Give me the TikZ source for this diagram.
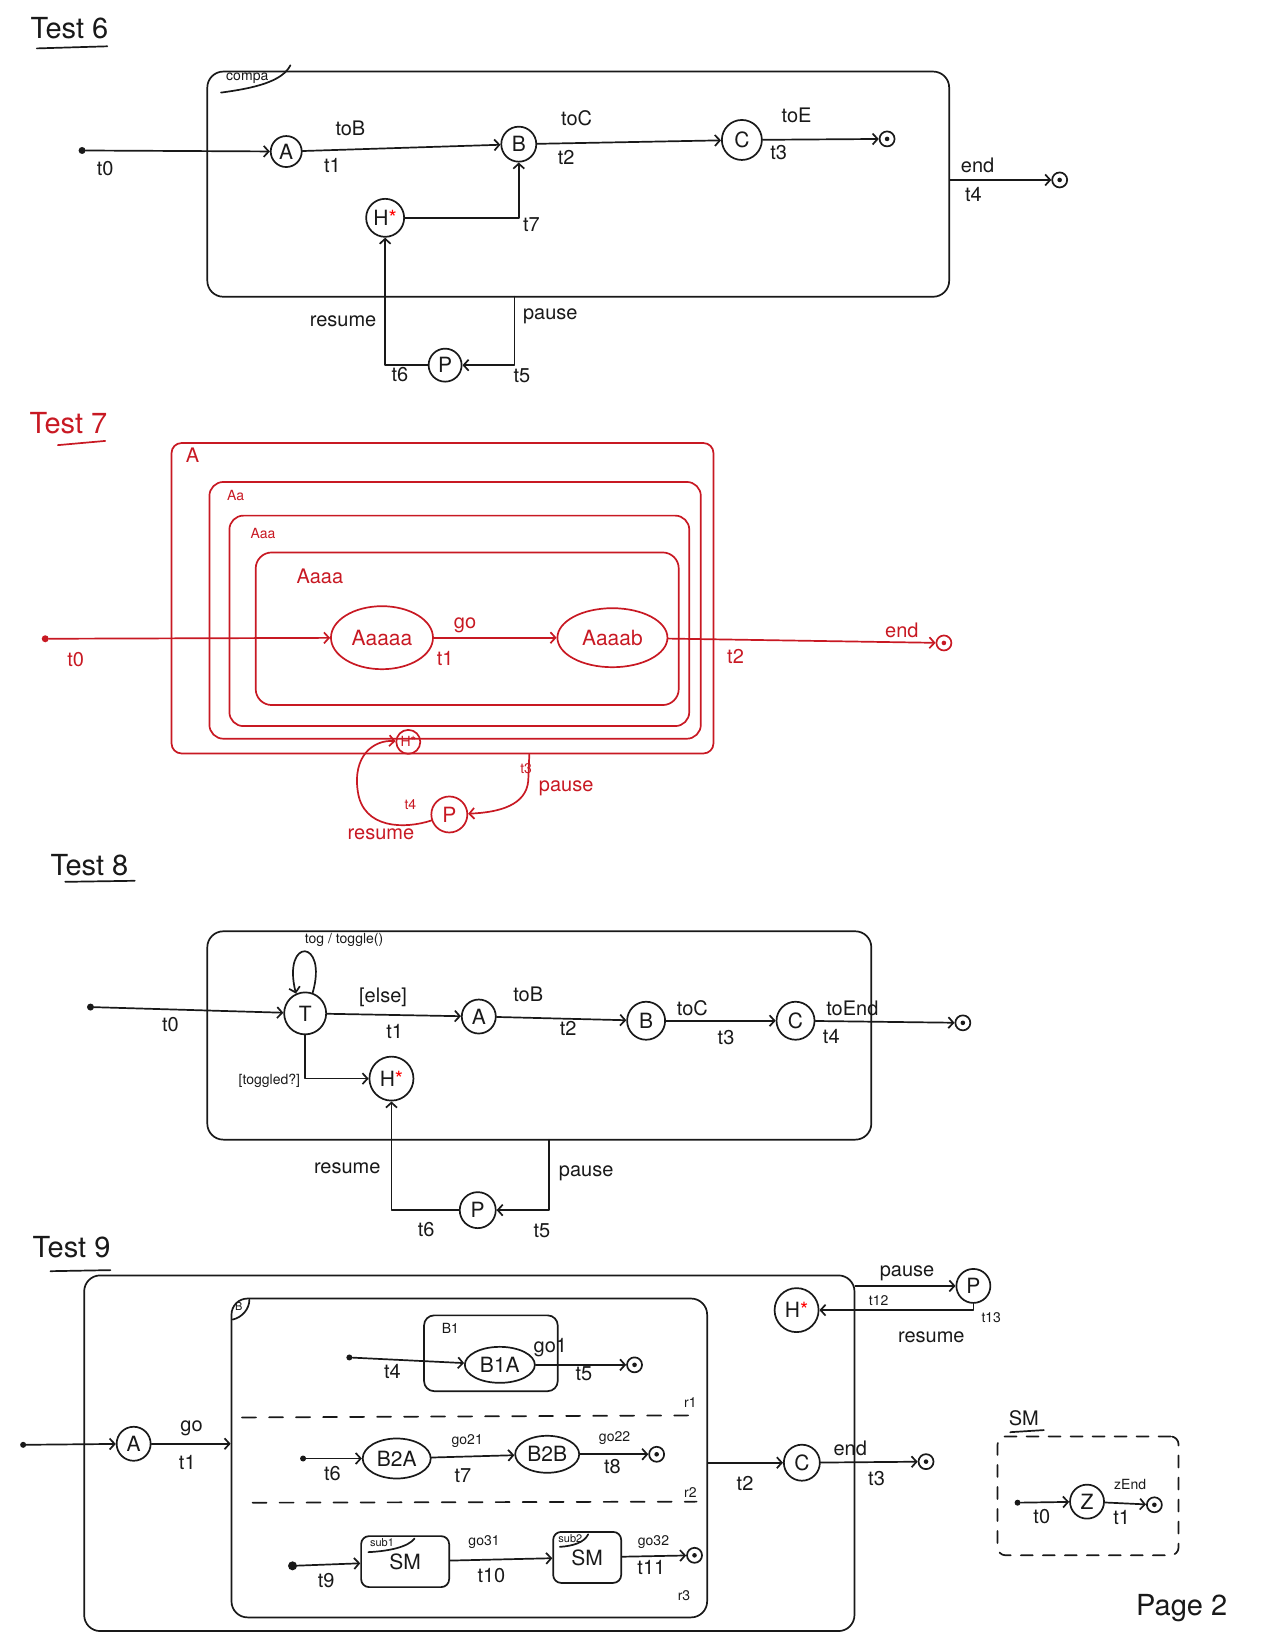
\documentclass[tikz,border=0pt]{standalone}
\usepackage{fontspec}
\setmainfont{TeX Gyre Heros}
\usetikzlibrary{arrows.meta,shapes.geometric,fit,calc}
\definecolor{inkc}{RGB}{25,25,25}
\definecolor{redink}{RGB}{200,25,35}
\newcommand\mylbl{\fontsize{20}{22}\selectfont}
\newcommand\mysmall{\fontsize{14}{16}\selectfont}
\newcommand\mytitle{\fontsize{29}{31}\selectfont}
\newcommand\mynode{\fontsize{21}{23}\selectfont}
\begin{document}
\begin{tikzpicture}[x=1.052pt,y=-1.052pt,
  ink/.style={line width=1.7pt, line cap=round, line join=round},
  st/.style={circle, draw, ink, inner sep=0pt, font=\mynode, minimum size=#1},
  st/.default=32pt,
  ov/.style={ellipse, draw, ink, inner sep=0pt, font=\mynode},
  ini/.style={circle, fill, inner sep=0pt, minimum size=7pt},
  fin/.style={circle, draw, ink, inner sep=0pt, minimum size=15pt,
     path picture={\fill (path picture bounding box.center) circle (2.3pt);}},
  tr/.style={ink, -{Straight Barb[length=5pt,width=11pt]}},
  lab/.style={font=\mylbl, inner sep=0pt},
  sml/.style={font=\mysmall, inner sep=0pt},
  ttl/.style={font=\mytitle, inner sep=0pt},
  box/.style={draw, ink, rounded corners=16pt, inner sep=0pt},
  dsh/.style={ink, dash pattern=on 14pt off 13pt}
]
\useasboundingbox (0,0) rectangle (1212,1568);
\begin{scope}[color=inkc]
% ================= Test 6 =================
\node[ttl] (T6) at (66,27) {Test 6};
\draw[ink] (35,46) -- (102,44);
\node[box, fit={(197,68) (902,282)}] (box6) {};
\draw[ink] (210,88) .. controls (240,84) and (268,78) .. (276,62);
\node[sml] (n6c) at (235,74) {compa};
\node[ini] (i6) at (78,143) {};
\node[st=31pt] (A6) at (272,144) {A};
\node[st=35pt] (B6) at (493,137) {B};
\node[st=40pt] (C6) at (705,133) {C};
\node[fin] (f6a) at (843,132) {};
\node[fin] (f6b) at (1007,171) {};
\node[st=38pt] (H6) at (366,207) {H\textcolor{red}{*}};
\node[st=33pt] (P6) at (423,347) {P};
\coordinate (p6s) at (489,282);
\draw[tr] (i6) -- (A6);
\draw[tr] (A6) -- (B6);
\draw[tr] (B6) -- (C6);
\draw[tr] (C6) -- (f6a);
\draw[tr] (box6.east |- f6b) -- (f6b);
\draw[tr] (H6) -| (B6.south);
\draw[tr] (p6s) |- (P6);
\draw[tr] (P6) -| (H6);
\node[lab] (l6a) at (100,160) {t0};
\node[lab] (l6b) at (333,122) {toB};
\node[lab] (l6c) at (316,157) {t1};
\node[lab] (l6d) at (548,112) {toC};
\node[lab] (l6e) at (538,150) {t2};
\node[lab] (l6f) at (757,110) {toE};
\node[lab] (l6g) at (740,145) {t3};
\node[lab] (l6h) at (929,157) {end};
\node[lab] (l6i) at (925,185) {t4};
\node[lab] (l6j) at (505,213) {t7};
\node[lab] (l6k) at (523,301) {pause};
\node[lab] (l6l) at (496,357) {t5};
\node[lab] (l6m) at (326,305) {resume};
\node[lab] (l6n) at (380,356) {t6};
\end{scope}
% ================= Test 7 =================
\begin{scope}[color=redink]
\node[ttl] (T7) at (65,402) {Test 7};
\draw[ink] (55,423) -- (100,419);
\node[box, rounded corners=10pt, fit={(163,421) (678,716)}] (bA) {};
\node[box, rounded corners=14pt, fit={(199,458) (666,702)}] (bAa) {};
\node[box, rounded corners=14pt, fit={(218,490) (655,690)}] (bAaa) {};
\node[box, rounded corners=16pt, fit={(243,525) (645,670)}] (bAaaa) {};
\node[lab] (l7A) at (183,433) {A};
\node[sml] (l7Aa) at (224,471) {Aa};
\node[sml] (l7Aaa) at (250,507) {Aaa};
\node[lab] (l7Aaaa) at (304,548) {Aaaa};
\node[ini] (i7) at (43,607) {};
\node[ov, minimum width=102pt, minimum height=63pt] (Aaaaa) at (363,606) {Aaaaa};
\node[ov, minimum width=110pt, minimum height=59pt] (Aaaab) at (582,606) {Aaaab};
\node[fin] (f7) at (897,611) {};
\node[st=24pt, font=\mysmall] (H7) at (388,705) {H*};
\node[st=36pt] (P7) at (427,774) {P};
\coordinate (p7s) at (503,717);
\draw[tr] (i7) -- (Aaaaa);
\draw[tr] (Aaaaa) -- (Aaaab);
\draw[tr] (Aaaab) -- (f7);
\draw[tr] (p7s) -- (502,742) .. controls (500,765) and (475,772) .. (P7);
\draw[tr] (P7) .. controls (385,788) and (345,788) .. (340,752) .. controls (335,718) and (355,703) .. (H7);
\node[lab] (l7a) at (72,627) {t0};
\node[lab] (l7b) at (442,594) {go};
\node[lab] (l7c) at (423,626) {t1};
\node[lab] (l7d) at (857,599) {end};
\node[lab] (l7e) at (699,624) {t2};
\node[sml] (l7f) at (500,730) {t3};
\node[lab] (l7g) at (538,749) {pause};
\node[sml] (l7h) at (390,765) {t4};
\node[lab] (l7i) at (362,793) {resume};
\end{scope}
% ================= Test 8 =================
\begin{scope}[color=inkc]
\node[ttl] (T8) at (85,822) {Test 8};
\draw[ink] (62,838) -- (128,837);
\node[box, fit={(197,885) (828,1083)}] (box8) {};
\node[ini] (i8) at (86,957) {};
\node[st=42pt] (T8s) at (290,963) {T};
\node[st=34pt] (A8) at (455,966) {A};
\node[st=38pt] (B8) at (614,970) {B};
\node[st=38pt] (C8) at (756,970) {C};
\node[fin] (f8) at (915,972) {};
\node[st=44pt] (H8) at (372,1025) {H\textcolor{red}{*}};
\node[st=36pt] (P8) at (454,1150) {P};
\coordinate (p8s) at (522,1083);
\draw[tr] (i8) -- (T8s);
\draw[tr] (T8s) -- (A8);
\draw[tr] (A8) -- (B8);
\draw[tr] (B8) -- (C8);
\draw[tr] (C8) -- (f8);
\draw[tr] (T8s.70) .. controls (312,892) and (268,890) .. (T8s.115);
\draw[tr] (T8s) |- (H8);
\draw[tr] (p8s) |- (P8);
\draw[tr] (P8) -| (H8);
\node[sml] (l8a) at (327,893) {tog / toggle()};
\node[lab] (l8b) at (162,974) {t0};
\node[lab] (l8c) at (364,948) {[else]};
\node[lab] (l8d) at (375,980) {t1};
\node[lab] (l8e) at (502,945) {toB};
\node[lab] (l8f) at (540,977) {t2};
\node[lab] (l8g) at (658,958) {toC};
\node[lab] (l8h) at (690,986) {t3};
\node[lab] (l8i) at (810,958) {toEnd};
\node[lab] (l8j) at (790,985) {t4};
\node[sml] (l8k) at (256,1027) {[toggled?]};
\node[lab] (l8l) at (330,1110) {resume};
\node[lab] (l8m) at (405,1168) {t6};
\node[lab] (l8n) at (557,1115) {pause};
\node[lab] (l8o) at (515,1170) {t5};
% ================= Test 9 =================
\node[ttl] (T9) at (68,1185) {Test 9};
\draw[ink] (48,1208) -- (105,1207);
\node[box, fit={(80,1212) (812,1550)}] (box9) {};
\node[box, fit={(220,1234) (672,1537)}] (bB) {};
\draw[ink] (221,1254) .. controls (230,1252) and (237,1244) .. (237,1235);
\node[font=\fontsize{11}{12}\selectfont, inner sep=0pt] (lB) at (227,1242) {B};
\node[ini, minimum size=6pt] (i9) at (22,1373) {};
\node[st=34pt] (A9) at (127,1372) {A};
\draw[tr] (i9) -- (A9);
\draw[tr] (A9) -- (bB.west |- A9);
\node[lab] (l9a) at (182,1357) {go};
\node[lab] (l9b) at (178,1390) {t1};
% region 1
\node[box, rounded corners=10pt, fit={(403,1250) (530,1322)}] (bB1) {};
\node[sml] (l9B1) at (428,1262) {B1};
\node[ov, minimum width=70pt, minimum height=36pt] (B1A) at (475,1297) {B1A};
\node[ini, minimum size=6pt] (i91) at (332,1290) {};
\node[fin] (f91) at (603,1297) {};
\draw[tr] (i91) -- (B1A);
\draw[tr] (B1A) -- (f91);
\node[lab] (l9c) at (373,1303) {t4};
\node[lab] (l9d) at (523,1281) {go1};
\node[lab] (l9e) at (555,1305) {t5};
\coordinate (d1a) at (230,1347);
\coordinate (d1b) at (662,1345);
\draw[dsh] (d1a) -- (d1b);
\node[sml] (l9r1) at (656,1333) {r1};
% region 2
\node[ini, minimum size=6pt] (i92) at (288,1386) {};
\node[ov, minimum width=68pt, minimum height=40pt] (B2A) at (377,1386) {B2A};
\node[ov, minimum width=64pt, minimum height=37pt] (B2B) at (520,1382) {B2B};
\node[fin] (f92) at (624,1382) {};
\draw[tr] (i92) -- (B2A);
\draw[tr] (B2A) -- (B2B);
\draw[tr] (B2B) -- (f92);
\node[lab] (l9f) at (316,1400) {t6};
\node[sml] (l9g) at (444,1369) {go21};
\node[lab] (l9h) at (440,1402) {t7};
\node[sml] (l9i) at (584,1367) {go22};
\node[lab] (l9j) at (582,1394) {t8};
\coordinate (d2a) at (240,1428);
\coordinate (d2b) at (662,1427);
\draw[dsh] (d2a) -- (d2b);
\node[sml] (l9r2) at (656,1418) {r2};
% region 3
\node[ini, minimum size=9pt] (i93) at (278,1488) {};
\node[box, rounded corners=8pt, minimum width=88pt, minimum height=51pt, font=\mynode] (sub1) at (385,1484) {SM};
\draw[ink] (350,1475) .. controls (370,1474) and (388,1470) .. (394,1462);
\node[font=\fontsize{11}{12}\selectfont, inner sep=0pt] (ls1) at (363,1466) {sub1};
\node[box, rounded corners=8pt, minimum width=68pt, minimum height=51pt, font=\mynode] (sub2) at (558,1480) {SM};
\draw[ink] (532,1470) .. controls (545,1469) and (555,1466) .. (559,1458);
\node[font=\fontsize{11}{12}\selectfont, inner sep=0pt] (ls2) at (542,1462) {sub2};
\node[fin] (f93) at (660,1478) {};
\draw[tr] (i93) -- (sub1);
\draw[tr] (sub1) -- (sub2);
\draw[tr] (sub2) -- (f93);
\node[lab] (l9k) at (310,1502) {t9};
\node[sml] (l9l) at (460,1465) {go31};
\node[lab] (l9m) at (467,1497) {t10};
\node[sml] (l9n) at (621,1465) {go32};
\node[lab] (l9o) at (619,1490) {t11};
\node[sml] (l9r3) at (650,1516) {r3};
% outside B
\node[st=36pt] (C9) at (762,1390) {C};
\node[fin] (f9) at (880,1389) {};
\draw[tr] (bB.east |- C9) -- (C9);
\draw[tr] (C9) -- (f9);
\node[lab] (l9p) at (708,1410) {t2};
\node[lab] (l9q) at (808,1376) {end};
\node[lab] (l9s) at (833,1405) {t3};
\node[st=44pt] (H9) at (757,1245) {H\textcolor{red}{*}};
\node[st=34pt] (P9) at (925,1222) {P};
\draw[tr] (box9.east |- P9) -- (P9);
\draw[tr] (P9) |- (H9);
\node[lab] (l9t) at (862,1210) {pause};
\node[sml] (l9u) at (835,1236) {t12};
\node[sml] (l9v) at (942,1252) {t13};
\node[lab] (l9w) at (885,1271) {resume};
% SM
\node[box, dash pattern=on 12pt off 10pt, rounded corners=8pt, fit={(948,1365) (1120,1478)}] (smb) {};
\node[lab] (lsm) at (973,1348) {SM};
\draw[ink] (960,1361) -- (992,1359);
\node[ini, minimum size=6pt] (iz) at (967,1428) {};
\node[st=34pt] (Z) at (1033,1427) {Z};
\node[fin] (fz) at (1097,1430) {};
\draw[tr] (iz) -- (Z);
\draw[tr] (Z) -- (fz);
\node[lab] (lz1) at (990,1441) {t0};
\node[sml] (lz2) at (1074,1411) {zEnd};
\node[lab] (lz3) at (1066,1442) {t1};
\node[ttl] (pg) at (1123,1528) {Page 2};
\end{scope}
\end{tikzpicture}
\end{document}
